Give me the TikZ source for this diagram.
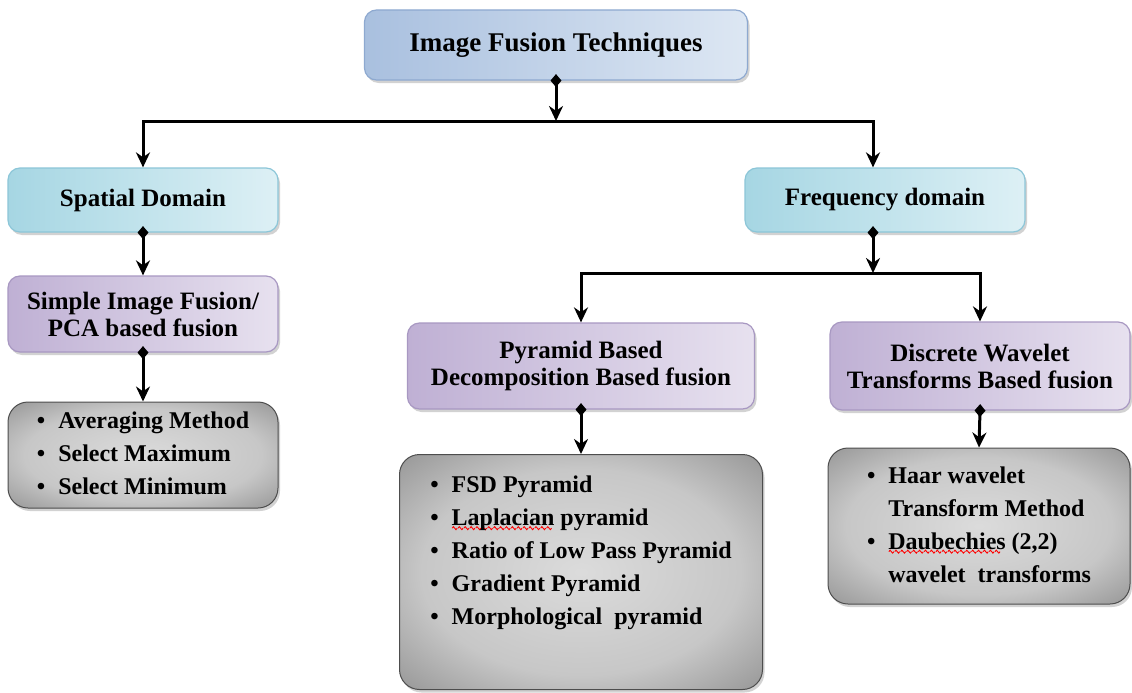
\documentclass[tikz,border=0pt]{standalone}
\usepackage{fontspec}
\setmainfont{Liberation Serif}
\usepackage{array}
\usetikzlibrary{arrows.meta,positioning,calc,shadows}
\definecolor{headleft}{HTML}{A9C0DF}
\definecolor{headright}{HTML}{DDE7F3}
\definecolor{headedge}{HTML}{8EA9D0}
\definecolor{domleft}{HTML}{A6D6E3}
\definecolor{domright}{HTML}{DDF0F5}
\definecolor{domedge}{HTML}{8CC6D8}
\definecolor{methleft}{HTML}{BFB0D4}
\definecolor{methright}{HTML}{E7E1EF}
\definecolor{methedge}{HTML}{A898C2}
\definecolor{listedge}{HTML}{4D4D4D}
\pgfdeclareradialshading{listshade}{\pgfpoint{0bp}{0bp}}{%
  color(0bp)=(black!14); color(22bp)=(black!22); color(42bp)=(black!50); color(60bp)=(black!62)}
\newsavebox{\wavebit}
\newcommand{\spellwave}[1]{\setbox0\hbox{#1}\rlap{\raisebox{-5pt}{\leaders\copy\wavebit\hskip\wd0}}\box0\relax}

\tikzset{
  card/.style={rounded corners=12pt,line width=1.2pt,align=center,inner sep=0pt,
               font=\bfseries\fontsize{25}{27}\selectfont,
               drop shadow={shadow xshift=2pt,shadow yshift=-3pt,opacity=0.35}},
  headbox/.style={card,draw=headedge,left color=headleft,right color=headright,
                  font=\bfseries\fontsize{27}{29}\selectfont},
  domainbox/.style={card,draw=domedge,left color=domleft,right color=domright},
  methodbox/.style={card,draw=methedge,left color=methleft,right color=methright},
  listbox/.style={card,rounded corners=20pt,draw=listedge,line width=1pt,
                  shading=listshade,
                  font=\bfseries\fontsize{24}{33}\selectfont},
  link/.style={line width=3pt,{Diamond[length=13pt,width=11pt]}-{Stealth[length=15pt,width=14pt]},
               shorten <=-6.5pt},
  branch/.style={line width=3pt,-{Stealth[length=15pt,width=14pt]}},
}
\newcommand{\itemrows}[1]{\begin{tabular}{@{}c@{\hspace{13pt}}l@{}}#1\end{tabular}}

\begin{document}
\sbox{\wavebit}{\begin{pgfpicture}
  \pgfsetlinewidth{0.9pt}\pgfsetstrokecolor{red}
  \pgfpathmoveto{\pgfpoint{0pt}{0pt}}
  \pgfpathcurveto{\pgfpoint{1.2pt}{2pt}}{\pgfpoint{1.2pt}{2pt}}{\pgfpoint{2.5pt}{0pt}}
  \pgfpathcurveto{\pgfpoint{3.8pt}{-2pt}}{\pgfpoint{3.8pt}{-2pt}}{\pgfpoint{5pt}{0pt}}
  \pgfusepath{stroke}
\end{pgfpicture}}%
\begin{tikzpicture}[x=1pt,y=-1pt]
  \useasboundingbox[fill=white] (0,0) rectangle (1132,693);

  \node[headbox,minimum width=383pt,minimum height=70pt] (techniques) at (556,45) {Image Fusion Techniques};

  \node[domainbox,minimum width=270pt,minimum height=64pt] (spatial) at (143,200) {Spatial Domain};
  \node[domainbox,minimum width=280pt,minimum height=64pt] (frequency) at (885,200) {Frequency domain};

  \node[methodbox,minimum width=270pt,minimum height=76pt] (simple) at (143,314) {Simple Image Fusion/\\PCA based fusion};
  \node[methodbox,minimum width=347pt,minimum height=86pt] (pyramid) at (581,366) {Pyramid Based\\Decomposition Based fusion};
  \node[methodbox,minimum width=300pt,minimum height=88pt] (dwt) at (980,366) {Discrete Wavelet\\Transforms Based fusion};

  \node[listbox,minimum width=270pt,minimum height=106pt] (averaging) at (143,455) {\itemrows{%
    \textbullet & Averaging Method\\
    \textbullet & Select Maximum\\
    \textbullet & Select Minimum}};
  \node[listbox,minimum width=363pt,minimum height=235pt] (pyrlist) at (581,572) {\itemrows{%
    \textbullet & FSD Pyramid\\
    \textbullet & \spellwave{Laplacian} pyramid\\
    \textbullet & Ratio of Low Pass Pyramid\\
    \textbullet & Gradient Pyramid\\
    \textbullet & Morphological\ \ pyramid\\[40pt]}};
  \node[listbox,minimum width=302pt,minimum height=156pt] (dwtlist) at (979,526) {\itemrows{%
    \textbullet & Haar wavelet\\
                & Transform Method\\
    \textbullet & \spellwave{Daubechies} (2,2)\\
                & wavelet\ \ transforms}};

  \coordinate (topjoin) at (556,121);
  \coordinate (freqjoin) at (873,273);

  \draw[link] (techniques.south) -- (topjoin);
  \draw[branch] (topjoin) -| (spatial.north);
  \draw[branch] (topjoin) -| ([xshift=-12pt]frequency.north);
  \draw[link] (spatial.south) -- (simple.north);
  \draw[link] (simple.south) -- (averaging.north);
  \draw[link] ([xshift=-12pt]frequency.south) -- (freqjoin);
  \draw[branch] (freqjoin) -| (pyramid.north);
  \draw[branch] (freqjoin) -| (dwt.north);
  \draw[link] (pyramid.south) -- (pyrlist.north);
  \draw[link] (dwt.south) -- (dwtlist.north);
\end{tikzpicture}
\end{document}
